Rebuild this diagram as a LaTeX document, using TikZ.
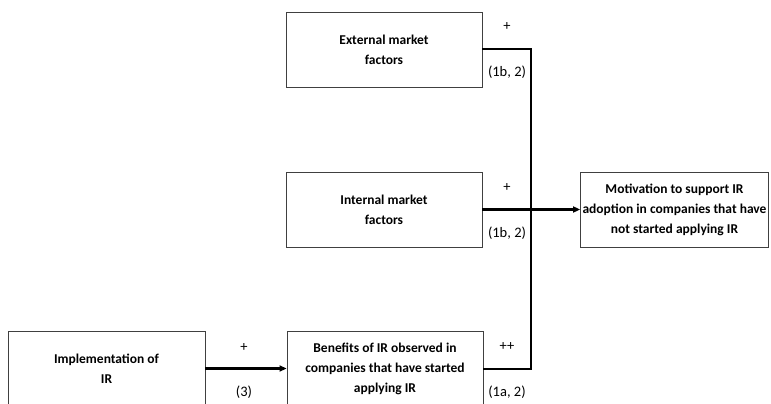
\documentclass[tikz,border=0pt]{standalone}
\usepackage{fontspec}
\setmainfont{Carlito}
\usetikzlibrary{arrows.meta}
\begin{document}
\begin{tikzpicture}[x=1pt,y=-1pt,
  box/.style={draw=black!75, line width=0.9pt, minimum height=75pt, inner sep=2pt,
    align=center, font=\fontsize{13.5}{20}\selectfont\bfseries},
  conn/.style={line width=2.4pt, black},
  arr/.style={conn, -{Triangle[length=7pt,width=6pt]}},
  lab/.style={font=\fontsize{14.5}{17}\selectfont, inner sep=0pt}]
\useasboundingbox (0,0) rectangle (771,404);
\begin{scope}
\clip (0,0) rectangle (771,404);
\node[box, minimum width=196pt] (ext) at (384,49.5) {External market\\factors};
\node[box, minimum width=196pt] (int) at (384,209.5) {Internal market\\factors};
\node[box, minimum width=187pt] (mot) at (674.5,209.5) {Motivation to support IR\\adoption in companies that have\\not started applying IR};
\node[box, minimum width=197pt] (imp) at (106.5,368.5) {Implementation of\\IR};
\node[box, minimum width=196pt] (ben) at (385,368.5) {Benefits of IR observed in\\companies that have started\\applying IR};
\coordinate (j1) at (531,49);
\coordinate (j2) at (531,369);
\draw[conn] (ext.east |- j1) -- (j1) -- (j2) -- (ben.east |- j2);
\draw[arr] (int.east) -- (mot.west);
\draw[arr] (imp.east) -- (ben.west);
\node[lab] (l1) at (507,27) {+};
\node[lab] (l2) at (507,72) {(1b, 2)};
\node[lab] (l3) at (507,188) {+};
\node[lab] (l4) at (507,233) {(1b, 2)};
\node[lab] (l5) at (507,347) {++};
\node[lab] (l6) at (507,392) {(1a, 2)};
\node[lab] (l7) at (244,348) {+};
\node[lab] (l8) at (244,392) {(3)};
\end{scope}
\end{tikzpicture}
\end{document}
